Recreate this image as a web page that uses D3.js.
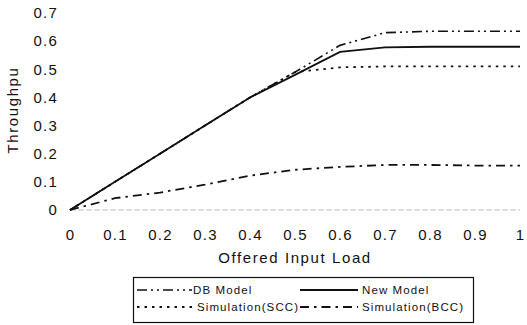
<!DOCTYPE html>
<html>
<head>
<meta charset="utf-8">
<script src="https://cdn.jsdelivr.net/npm/d3@7"></script>
<style>
  body { margin: 0; background: #fff; }
  text { font-family: "Liberation Sans", Arial, sans-serif; fill: #111; }
</style>
</head>
<body>
<div id="chart"></div>
<script>
const WIDTH = 527;
const HEIGHT = 325;

const loads = [0, 0.1, 0.2, 0.3, 0.4, 0.5, 0.6, 0.7, 0.8, 0.9, 1];
const dbModel = [0, 0.1, 0.2, 0.3, 0.4, 0.49, 0.585, 0.63, 0.635, 0.635, 0.635];
const newModel = [0, 0.1, 0.2, 0.3, 0.4, 0.48, 0.562, 0.578, 0.58, 0.58, 0.58];
const simSCC = [0, 0.1, 0.2, 0.3, 0.4, 0.49, 0.507, 0.51, 0.51, 0.51, 0.51];
const simBCC = [0, 0.042, 0.062, 0.09, 0.122, 0.143, 0.153, 0.16, 0.16, 0.158, 0.158];
const xTicks = [0, 0.1, 0.2, 0.3, 0.4, 0.5, 0.6, 0.7, 0.8, 0.9, 1];
const yTicks = [0, 0.1, 0.2, 0.3, 0.4, 0.5, 0.6, 0.7];

const series = [
  { name: 'DB Model', values: dbModel, dash: '10,4,2,4,2,4', width: 1.6 },
  { name: 'New Model', values: newModel, dash: null, width: 1.8 },
  { name: 'Simulation(SCC)', values: simSCC, dash: '2.5,5', width: 1.8 },
  { name: 'Simulation(BCC)', values: simBCC, dash: '9,5,2.5,5', width: 1.8 }
];

const fmt = d => (d === 0 || d === 1) ? String(d) : d3.format('.1f')(d);

const svg = d3.select('#chart')
  .append('svg')
  .attr('width', WIDTH)
  .attr('height', HEIGHT);

const xScale = d3.scaleLinear().domain([0, 1]).range([70, 520]);
const yScale = d3.scaleLinear().domain([0, 0.7]).range([210, 13]);

// faint baseline like the scan
svg.append('line')
  .attr('x1', xScale(0)).attr('x2', xScale(1))
  .attr('y1', yScale(0)).attr('y2', yScale(0))
  .attr('stroke', '#bbb')
  .attr('stroke-width', 1)
  .attr('stroke-dasharray', '6,2');

const xAxis = svg.append('g')
  .attr('transform', `translate(0, ${yScale(0) + 16})`)
  .call(d3.axisBottom(xScale).tickValues(xTicks).tickSize(0).tickFormat(fmt));
xAxis.select('.domain').remove();
xAxis.selectAll('text')
  .attr('dy', '0.71em')
  .style('font-size', '15px')
  .style('letter-spacing', '1.2px')
  .style('font-family', '"Liberation Sans", Arial, sans-serif')
  .attr('fill', '#111');

const yAxis = svg.append('g')
  .attr('transform', 'translate(58, 0)')
  .call(d3.axisLeft(yScale).tickValues(yTicks).tickSize(0).tickPadding(0).tickFormat(fmt));
yAxis.select('.domain').remove();
yAxis.selectAll('text')
  .style('font-size', '15px')
  .style('letter-spacing', '1.2px')
  .style('font-family', '"Liberation Sans", Arial, sans-serif')
  .attr('fill', '#111');

const line = d3.line()
  .x((d, i) => xScale(loads[i]))
  .y(d => yScale(d));

svg.selectAll('path.series')
  .data(series)
  .enter()
  .append('path')
  .attr('class', 'series')
  .attr('d', d => line(d.values))
  .attr('fill', 'none')
  .attr('stroke', '#111')
  .attr('stroke-width', d => d.width)
  .attr('stroke-dasharray', d => d.dash);

svg.append('text')
  .attr('text-anchor', 'middle')
  .attr('x', 295)
  .attr('y', 263)
  .style('font-size', '15px')
  .style('letter-spacing', '1.6px')
  .text('Offered Input Load');

svg.append('text')
  .attr('text-anchor', 'middle')
  .attr('transform', 'translate(18, 110) rotate(-90)')
  .style('font-size', '15px')
  .style('letter-spacing', '1.6px')
  .text('Throughpu');

// legend
const legend = svg.append('g');
legend.append('rect')
  .attr('x', 133.5).attr('y', 277.5)
  .attr('width', 340).attr('height', 45)
  .attr('fill', 'none')
  .attr('stroke', '#111')
  .attr('stroke-width', 1.2);

const legendPos = [
  { x: 137, y: 290 },
  { x: 300, y: 290 },
  { x: 137, y: 307 },
  { x: 300, y: 307 }
];

const items = legend.selectAll('g.item')
  .data(series)
  .enter()
  .append('g')
  .attr('class', 'item')
  .attr('transform', (d, i) => `translate(${legendPos[i].x}, ${legendPos[i].y})`);

items.append('line')
  .attr('x1', 0).attr('x2', (d, i) => i % 2 === 0 ? 55 : 58)
  .attr('y1', 0).attr('y2', 0)
  .attr('stroke', '#111')
  .attr('stroke-width', d => d.width)
  .attr('stroke-dasharray', d => d.dash);

items.append('text')
  .attr('x', (d, i) => i % 2 === 0 ? (i === 0 ? 56 : 60) : 62)
  .attr('dy', '0.35em')
  .style('font-size', '11.5px')
  .style('letter-spacing', '1.1px')
  .text(d => d.name);
</script>
</body>
</html>
